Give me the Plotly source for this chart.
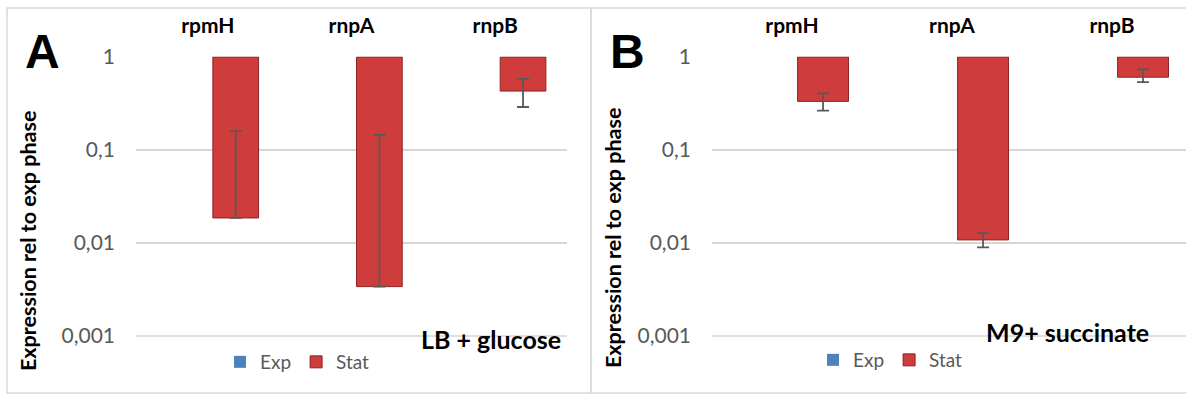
import plotly.graph_objects as go

# ---------------- data ----------------
categories = ["rpmH", "rnpA", "rnpB"]
exp_values = [1, 1, 1]

stat_A = [0.0186, 0.0034, 0.43]
stat_A_err_plus = [0.141, 0.142, 0.15]
stat_A_err_minus = [0.0, 0.0, 0.14]

stat_B = [0.333, 0.0108, 0.606]
stat_B_err_plus = [0.073, 0.002, 0.13]
stat_B_err_minus = [0.068, 0.0018, 0.07]

y_tickvals = [1, 0.1, 0.01, 0.001]
y_ticktext = ["1", "0,1", "0,01", "0,001"]

panel_letters = ["A", "B"]
panel_notes = ["LB + glucose", "M9+ succinate"]
y_title = "Expression rel to exp phase"

# ---------------- style ----------------
W, H = 1186, 396
FONT = "Lato"
RED = "#cf3c3c"
RED_EDGE = "#8e2323"
BLUE = "#4f81bd"
GRID = "#d6d6d6"
TICK_GRAY = "#595959"
BASE = 1.0  # bars hang down from 1 (axis crosses at 1)
Y_RANGE = [-3.01, 0.005]


def px_x(v):
    return v / W


def px_y(v):
    return (H - v) / H


fig = go.Figure()

panels = [
    (stat_A, stat_A_err_plus, stat_A_err_minus, "x", "y", "legend"),
    (stat_B, stat_B_err_plus, stat_B_err_minus, "x2", "y2", "legend2"),
]

for vals, ep, em, xa, ya, lg in panels:
    fig.add_trace(go.Bar(
        name="Exp", x=categories, y=[v - BASE for v in exp_values], base=BASE,
        marker=dict(color=BLUE, line=dict(width=0)),
        xaxis=xa, yaxis=ya, legend=lg,
    ))
    fig.add_trace(go.Bar(
        name="Stat", x=categories, y=[v - BASE for v in vals], base=BASE,
        marker=dict(color=RED, line=dict(color=RED_EDGE, width=1)),
        error_y=dict(type="data", symmetric=False, array=ep, arrayminus=em,
                     color=TICK_GRAY, thickness=1.8, width=6),
        xaxis=xa, yaxis=ya, legend=lg,
    ))

ydom = [px_y(337), px_y(56.5)]

xaxis_common = dict(
    type="category", side="top", showgrid=False, zeroline=False, showline=False,
    ticks="", tickfont=dict(family=FONT, size=21, color="black", weight="bold"),
    ticklabelstandoff=18, fixedrange=True, automargin=False,
)
yaxis_common = dict(
    type="log", range=Y_RANGE, tickvals=y_tickvals, ticktext=y_ticktext,
    showgrid=True, gridcolor=GRID, gridwidth=1.6, zeroline=False, showline=False,
    ticks="", tickfont=dict(family=FONT, size=21, color=TICK_GRAY),
    ticklabelstandoff=20, domain=ydom, automargin=False,
)

fig.update_layout(
    width=W, height=H,
    margin=dict(l=0, r=0, t=0, b=0, autoexpand=False),
    paper_bgcolor="white", plot_bgcolor="white",
    barmode="group", bargap=0.224, bargroupgap=0.18,
    xaxis=dict(domain=[px_x(136), px_x(567)], range=[-0.5, 2.5], anchor="y", **xaxis_common),
    yaxis=dict(anchor="x", **yaxis_common),
    xaxis2=dict(domain=[px_x(712), 1.0], range=[-0.5, 2.4625], anchor="y2", **xaxis_common),
    yaxis2=dict(anchor="x2", **yaxis_common),
    legend=dict(orientation="h", x=px_x(220), y=px_y(362), xanchor="left", yanchor="middle",
                font=dict(family=FONT, size=19, color=TICK_GRAY), itemwidth=30,
                bgcolor="rgba(0,0,0,0)"),
    legend2=dict(orientation="h", x=px_x(813), y=px_y(360), xanchor="left", yanchor="middle",
                 font=dict(family=FONT, size=19, color=TICK_GRAY), itemwidth=30,
                 bgcolor="rgba(0,0,0,0)"),
    showlegend=True,
)

# bottom (0,001) gridline, drawn explicitly so it shows at the edge of the plot area
import math
bottom_frac = (math.log10(min(y_tickvals)) - Y_RANGE[0]) / (Y_RANGE[1] - Y_RANGE[0])
for xr, yr in [("x domain", "y domain"), ("x2 domain", "y2 domain")]:
    fig.add_shape(type="line", xref=xr, yref=yr, x0=0, x1=1, y0=bottom_frac, y1=bottom_frac,
                  line=dict(color=GRID, width=1.6), layer="below")

# panel frames
fig.add_shape(type="rect", xref="paper", yref="paper",
              x0=px_x(7), x1=px_x(591), y0=px_y(393), y1=px_y(8),
              line=dict(color="#d9d9d9", width=1.5), layer="below")
fig.add_shape(type="rect", xref="paper", yref="paper",
              x0=px_x(591), x1=1.02, y0=px_y(393), y1=px_y(8),
              line=dict(color="#d9d9d9", width=1.5), layer="below")

# annotations: panel letters, y titles, medium notes
letter_pos = [(42, 52), (627, 52)]
ytitle_pos = [(28, 241), (613, 238)]
note_pos = [(491, 339), (1067, 332)]
for i in range(2):
    fig.add_annotation(text=f"<b>{panel_letters[i]}</b>", xref="paper", yref="paper",
                       x=px_x(letter_pos[i][0]), y=px_y(letter_pos[i][1]),
                       xanchor="center", yanchor="middle",
                       showarrow=False, font=dict(family="Liberation Sans", size=48, color="black"))
    fig.add_annotation(text=f"<b>{y_title}</b>", xref="paper", yref="paper",
                       x=px_x(ytitle_pos[i][0]), y=px_y(ytitle_pos[i][1]), textangle=-90,
                       xanchor="center", yanchor="middle",
                       showarrow=False, font=dict(family=FONT, size=21.5, color="black"))
    fig.add_annotation(text=f"<b>{panel_notes[i]}</b>", xref="paper", yref="paper",
                       x=px_x(note_pos[i][0]), y=px_y(note_pos[i][1]),
                       xanchor="center", yanchor="middle",
                       showarrow=False, font=dict(family=FONT, size=25, color="black"))

fig.write_html("out.html")
